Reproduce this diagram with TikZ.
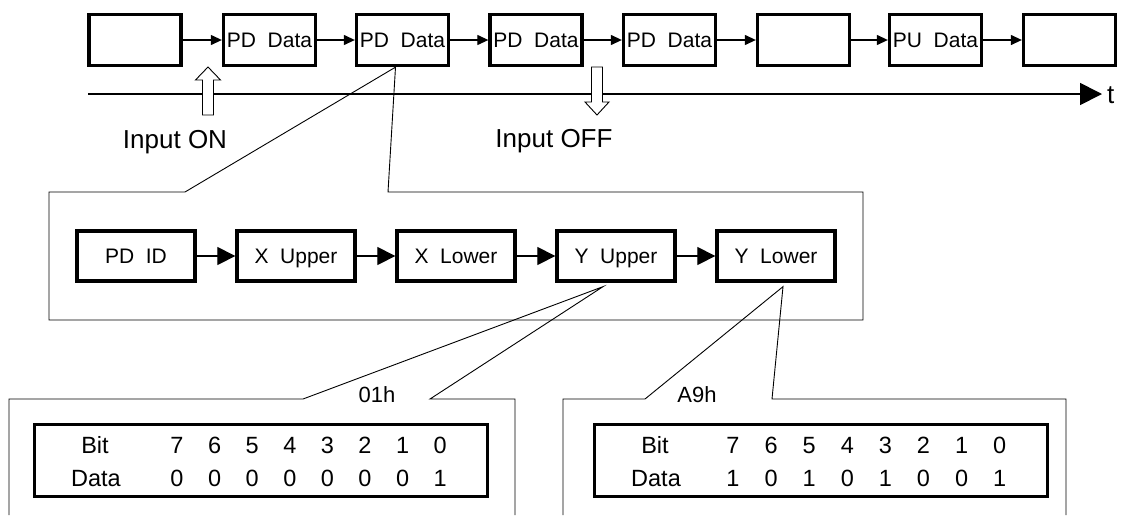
\documentclass[tikz,border=0pt]{standalone}
\usepackage{fontspec}
\setmainfont{Liberation Sans}
\usetikzlibrary{arrows.meta}

\begin{document}
\begin{tikzpicture}[x=1pt,y=-1pt,
    frame/.style={draw,line width=3.3pt,minimum width=92pt,minimum height=51pt,inner sep=0pt,
      font=\fontsize{21}{25}\selectfont,text height=15pt,text depth=0pt},
    field/.style={draw,line width=3.3pt,minimum width=118pt,minimum height=50pt,inner sep=0pt,
      font=\fontsize{21}{25}\selectfont,text height=15pt,text depth=0pt},
    bits/.style={draw,line width=3pt,minimum width=453pt,minimum height=72pt,inner sep=0pt},
    link/.style={line width=1.2pt,-{Triangle[length=11pt,width=10pt]}},
    biglink/.style={line width=1.2pt,-{Triangle[length=18pt,width=18pt]}},
    callout/.style={line width=0.9pt},
    hollow/.style={draw,line width=0.9pt,fill=white},
    lbl/.style={inner sep=0pt,font=\fontsize{26}{31}\selectfont,text height=18.6pt,text depth=0pt},
    cell/.style={inner sep=0pt,font=\fontsize{23.5}{28}\selectfont,text height=16.8pt,text depth=0pt}]
  \useasboundingbox (0,0) rectangle (1121,515);

  % frames on the bus
  \node[frame] (f1) at (135,40) {};
  \node[frame] (f2) at (269.5,40) {PD\ \ Data};
  \node[frame] (f3) at (402.5,40) {PD\ \ Data};
  \node[frame] (f4) at (536,40) {PD\ \ Data};
  \node[frame] (f5) at (669.5,40) {PD\ \ Data};
  \node[frame] (f6) at (803.5,40) {};
  \node[frame] (f7) at (935.5,40) {PU\ \ Data};
  \node[frame] (f8) at (1069.5,40) {};
  \foreach \a/\b in {f1/f2,f2/f3,f3/f4,f4/f5,f5/f6,f6/f7,f7/f8}
    \draw[link] (\a) -- (\b);

  % time axis
  \coordinate (t0) at (88,94);
  \coordinate (t1) at (1102,94);
  \draw[line width=1.7pt,-{Triangle[length=22pt,width=22pt]}] (t0) -- (t1);
  \node[lbl,anchor=west] (t) at (1107,94) {t};

  % input events
  \coordinate (on) at (208,67);
  \draw[hollow] (on) -- ++(12.5,13) -- ++(-7,0) -- ++(0,35) -- ++(-11,0) -- ++(0,-35) -- ++(-7,0) -- cycle;
  \node[lbl] (inon) at (175,139) {Input ON};
  \coordinate (off) at (597,115);
  \draw[hollow] (off) -- ++(12,-13) -- ++(-6.5,0) -- ++(0,-35) -- ++(-11,0) -- ++(0,35) -- ++(-6.5,0) -- cycle;
  \node[lbl] (inoff) at (554,138) {Input OFF};

  % frame contents
  \coordinate (z1) at ([xshift=-7pt]f3.south);
  \draw[callout] (185,192) -- (z1) -- (388,192) -- (863,192) -- (863,320) -- (49,320) -- (49,192) -- cycle;
  \node[field] (id) at (136,256) {PD\ \ ID};
  \node[field] (xu) at (296,256) {X\ \ Upper};
  \node[field] (xl) at (456,256) {X\ \ Lower};
  \node[field] (yu) at (616,256) {Y\ \ Upper};
  \node[field] (yl) at (776,256) {Y\ \ Lower};
  \foreach \a/\b in {id/xu,xu/xl,xl/yu,yu/yl}
    \draw[biglink] (\a) -- (\b);

  % byte details
  \coordinate (z2) at ([xshift=-13pt,yshift=-4pt]yu.south);
  \coordinate (z3) at ([xshift=7pt,yshift=-4pt]yl.south);
  \draw[callout] (9,515) -- (9,399) -- (303,399) -- (z2) -- (430,399) -- (515,399) -- (515,515);
  \draw[callout] (563,515) -- (563,399) -- (645,399) -- (z3) -- (772,399) -- (1066,399) -- (1066,515);
  \node[cell,font=\fontsize{22}{26}\selectfont,text height=15.7pt] (lhex) at (377,395) {01h};
  \node[cell,font=\fontsize{22}{26}\selectfont,text height=15.7pt] (rhex) at (697,395) {A9h};

  \node[bits] (lb) at (261,460.5) {};
  \node[bits] (rb) at (820.5,460) {};
  \node[cell] (lbit) at (95,445) {Bit};
  \node[cell] (ldat) at (96,478) {Data};
  \node[cell] (rbit) at (655,445) {Bit};
  \node[cell] (rdat) at (656,478) {Data};
  \foreach \v [count=\k from 0] in {7,6,5,4,3,2,1,0} {
    \node[cell] (ln\k) at (177+37.6*\k,445) {\v};
    \node[cell] (rn\k) at (733+38.1*\k,445) {\v};
  }
  \foreach \v [count=\k from 0] in {0,0,0,0,0,0,0,1}
    \node[cell] (lv\k) at (177+37.6*\k,478) {\v};
  \foreach \v [count=\k from 0] in {1,0,1,0,1,0,0,1}
    \node[cell] (rv\k) at (733+38.1*\k,478) {\v};
\end{tikzpicture}
\end{document}
